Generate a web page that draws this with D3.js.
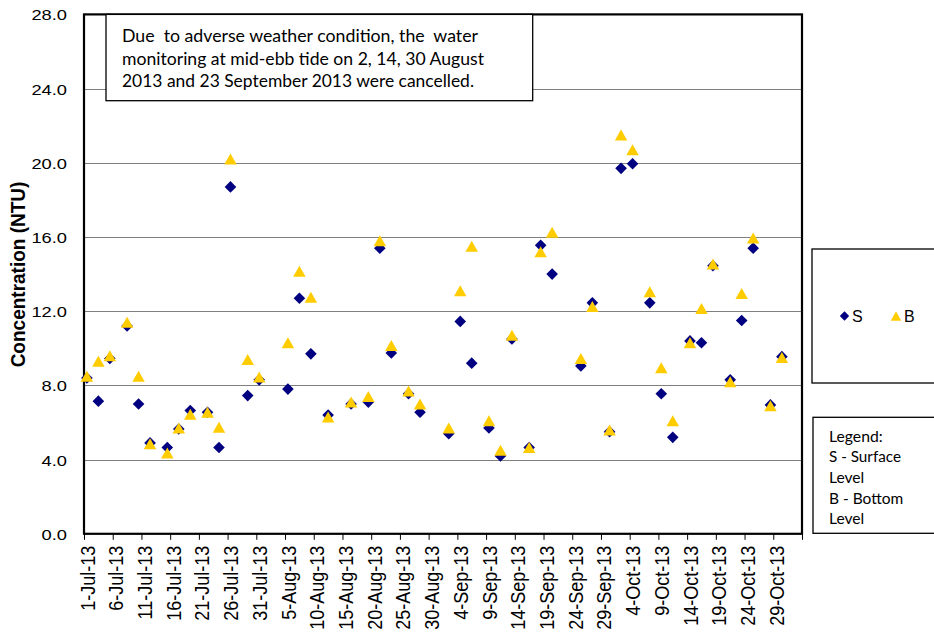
<!DOCTYPE html>
<html>
<head>
<meta charset="utf-8">
<script src="https://cdn.jsdelivr.net/npm/d3@7"></script>
<style>
  html, body { margin: 0; padding: 0; background: #fff; }
  svg { display: block; }
</style>
</head>
<body>
<script>
// ---- data ----
const dates = ["1-Jul-13","3-Jul-13","5-Jul-13","8-Jul-13","10-Jul-13","12-Jul-13","15-Jul-13","17-Jul-13","19-Jul-13","22-Jul-13","24-Jul-13","26-Jul-13","29-Jul-13","31-Jul-13","5-Aug-13","7-Aug-13","9-Aug-13","12-Aug-13","16-Aug-13","19-Aug-13","21-Aug-13","23-Aug-13","26-Aug-13","28-Aug-13","2-Sep-13","4-Sep-13","6-Sep-13","9-Sep-13","11-Sep-13","13-Sep-13","16-Sep-13","18-Sep-13","20-Sep-13","25-Sep-13","27-Sep-13","30-Sep-13","2-Oct-13","4-Oct-13","7-Oct-13","9-Oct-13","11-Oct-13","14-Oct-13","16-Oct-13","18-Oct-13","21-Oct-13","23-Oct-13","25-Oct-13","28-Oct-13","30-Oct-13"];
const surface = [8.4,7.15,9.45,11.2,7.0,4.9,4.65,5.65,6.65,6.55,4.65,18.7,7.45,8.3,7.8,12.7,9.7,6.4,7.0,7.1,15.4,9.75,7.55,6.55,5.4,11.45,9.2,5.7,4.2,10.5,4.65,15.55,14.0,9.05,12.45,5.5,19.7,19.95,12.45,7.55,5.2,10.4,10.3,14.45,8.3,11.5,15.4,6.95,9.55];
const bottom = [8.5,9.3,9.6,11.4,8.5,4.85,4.35,5.7,6.45,6.55,5.75,20.2,9.4,8.45,10.3,14.15,12.75,6.3,7.1,7.4,15.8,10.15,7.7,7.0,5.7,13.1,15.5,6.1,4.5,10.7,4.65,15.2,16.25,9.45,12.25,5.6,21.5,20.7,13.05,8.95,6.1,10.3,12.15,14.55,8.2,12.95,15.95,6.9,9.5];
const xTickLabels = ["1-Jul-13","6-Jul-13","11-Jul-13","16-Jul-13","21-Jul-13","26-Jul-13","31-Jul-13","5-Aug-13","10-Aug-13","15-Aug-13","20-Aug-13","25-Aug-13","30-Aug-13","4-Sep-13","9-Sep-13","14-Sep-13","19-Sep-13","24-Sep-13","29-Sep-13","4-Oct-13","9-Oct-13","14-Oct-13","19-Oct-13","24-Oct-13","29-Oct-13"];
const xAxisEnd = "3-Nov-13";
const yTicks = [0,4,8,12,16,20,24,28];
const seriesNames = ["S","B"];
const yTitle = "Concentration (NTU)";
const noteLines = ["Due  to adverse weather condition, the  water","monitoring at mid-ebb tide on 2, 14, 30 August","2013 and 23 September 2013 were cancelled."];
const legendNoteLines = ["Legend:","S - Surface","Level","B - Bottom","Level"];

// ---- layout ----
const W = 934, H = 637;
const L = 84, R = 802, T = 14.4, B = 533.8;
const navy = "#000080", gold = "#FFCC00";
const parse = d3.utcParse("%d-%b-%y");

const svg = d3.select("body").append("svg").attr("width", W).attr("height", H);
svg.append("rect").attr("width", W).attr("height", H).attr("fill", "#fff");

const x = d3.scaleUtc().domain([parse(xTickLabels[0]), parse(xAxisEnd)]).range([L, R]);
const y = d3.scaleLinear().domain([0, 28]).range([B, T]);
const halfDay = 12 * 3600 * 1000;
const px = d => x(new Date(parse(d).getTime() + halfDay));

// gridlines
svg.append("g").selectAll("line").data(yTicks.filter(v => v > 0 && v < 28)).join("line")
  .attr("x1", L).attr("x2", R).attr("y1", d => Math.round(y(d)) + 0.5).attr("y2", d => Math.round(y(d)) + 0.5)
  .attr("stroke", "#808080").attr("stroke-width", 1);

// plot border
svg.append("rect").attr("x", L).attr("y", T).attr("width", R - L).attr("height", B - T)
  .attr("fill", "none").attr("stroke", "#000").attr("stroke-width", 2.2);

// y axis labels
const yAxis = svg.append("g").attr("transform", `translate(${L},0)`)
  .call(d3.axisLeft(y).tickValues(yTicks).tickSize(0).tickPadding(17).tickFormat(d3.format(".1f")));
yAxis.select(".domain").remove();
yAxis.selectAll("text")
  .attr("x", null).attr("dy", "0.36em")
  .attr("transform", "translate(-17,0) scale(1.22,1)")
  .attr("font-family", "'Liberation Sans', Arial, sans-serif").attr("font-size", 15).attr("fill", "#000");

// x axis
const tickDates = xTickLabels.map(parse).concat([parse(xAxisEnd)]);
const fmtMap = new Map(xTickLabels.map(s => [parse(s).getTime(), s]));
const xAxis = svg.append("g").attr("transform", `translate(0,${B})`)
  .call(d3.axisBottom(x).tickValues(tickDates).tickSize(6).tickFormat(d => fmtMap.get(d.getTime()) || ""));
xAxis.select(".domain").remove();
xAxis.selectAll(".tick line").attr("stroke", "#000").attr("stroke-width", 1);
xAxis.selectAll("text")
  .attr("y", null).attr("x", null).attr("dy", "0.36em")
  .attr("text-anchor", "end")
  .attr("transform", "translate(2.5,12) scale(1.16,1) rotate(-90)")
  .attr("font-family", "'Liberation Sans', Arial, sans-serif").attr("font-size", 18).attr("fill", "#000");

// y title
svg.append("text")
  .attr("transform", "translate(17.5,274.5) scale(1.1,1) rotate(-90)")
  .attr("text-anchor", "middle").attr("dy", "0.36em")
  .attr("font-family", "'Liberation Sans', Arial, sans-serif").attr("font-weight", "bold").attr("font-size", 19)
  .text(yTitle);

// markers
const diamond = s => `M0,${-s}L${s},0L0,${s}L${-s},0Z`;
const tri = (w, h) => `M0,${-h / 2}L${w / 2},${h / 2}L${-w / 2},${h / 2}Z`;

svg.append("g").selectAll("path").data(dates.map((d, i) => ({ d, v: surface[i] }))).join("path")
  .attr("d", diamond(5.8))
  .attr("transform", p => `translate(${px(p.d)},${y(p.v)})`)
  .attr("fill", navy);

svg.append("g").selectAll("path").data(dates.map((d, i) => ({ d, v: bottom[i] }))).join("path")
  .attr("d", tri(12.5, 11))
  .attr("transform", p => `translate(${px(p.d)},${y(p.v)})`)
  .attr("fill", gold);

// annotation box
svg.append("rect").attr("x", 106).attr("y", T).attr("width", 426.7).attr("height", 100.7 - T)
  .attr("fill", "#fff").attr("stroke", "#000").attr("stroke-width", 1.3);
const noteW = [356, 362, 352];
svg.append("g").selectAll("text").data(noteLines).join("text")
  .attr("x", 122).attr("y", (d, i) => 42.3 + i * 22.2)
  .attr("font-family", "Lato, 'Open Sans', sans-serif").attr("font-size", 17)
  .attr("textLength", (d, i) => noteW[i]).attr("lengthAdjust", "spacingAndGlyphs")
  .attr("xml:space", "preserve").style("white-space", "pre")
  .text(d => d);

// legend 1
svg.append("rect").attr("x", 812).attr("y", 249).attr("width", 160).attr("height", 134)
  .attr("fill", "#fff").attr("stroke", "#000").attr("stroke-width", 1.3);
svg.append("path").attr("d", diamond(4.7)).attr("transform", "translate(844.5,316)").attr("fill", navy);
svg.append("path").attr("d", tri(10.5, 9.5)).attr("transform", "translate(896,316)").attr("fill", gold);
svg.append("g").selectAll("text").data(seriesNames).join("text")
  .attr("x", (d, i) => i === 0 ? 852 : 904).attr("y", 322)
  .attr("font-family", "'Liberation Sans', Arial, sans-serif").attr("font-size", 16)
  .text(d => d);

// legend 2
svg.append("rect").attr("x", 813).attr("y", 417.3).attr("width", 160).attr("height", 116)
  .attr("fill", "#fff").attr("stroke", "#000").attr("stroke-width", 1.3);
const legW = [53.7, 72, 35.3, 74.3, 35.3];
svg.append("g").selectAll("text").data(legendNoteLines).join("text")
  .attr("x", 829).attr("y", (d, i) => 441.7 + i * 20.6)
  .attr("font-family", "Lato, 'Open Sans', sans-serif").attr("font-size", 15.5)
  .attr("textLength", (d, i) => legW[i]).attr("lengthAdjust", "spacingAndGlyphs")
  .text(d => d);
</script>
</body>
</html>
